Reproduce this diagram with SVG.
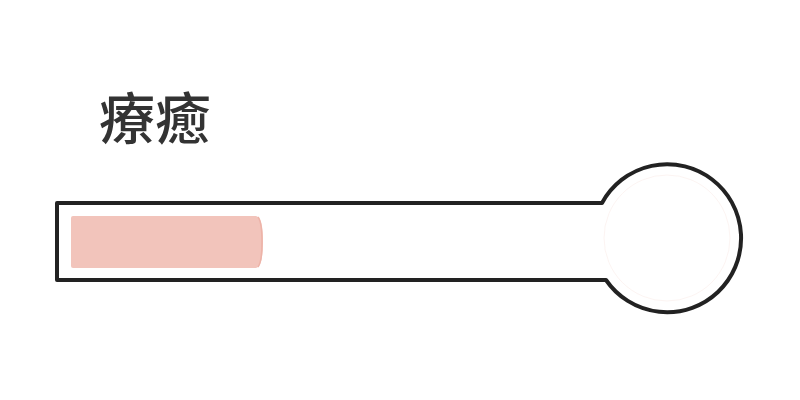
<svg xmlns="http://www.w3.org/2000/svg" width="800" height="400" viewBox="0 0 800 400">
  <style>
    .outline { fill: #ffffff; stroke: #222222; stroke-width: 4; stroke-linejoin: round; }
    .title { font-family: "Noto Sans CJK TC", "Noto Sans CJK JP", sans-serif; font-size: 56px; font-weight: 500; fill: #333333; }
  </style>
  <rect width="800" height="400" fill="#ffffff"/>
  <g id="title">
    <text class="title" x="99" y="139">療癒</text>
  </g>
  <g id="thermometer">
    <path class="outline" d="M57,203 L602,203 A74,74 0 1 1 606,280 L57,280 Z"/>
    <circle cx="667" cy="238" r="63" fill="none" stroke="#f8e4df" stroke-width="0.8" opacity="0.5"/>
  </g>
  <g id="level">
    <path d="M73,216 L256,216 Q263,217 263,242 Q263,267 256,268 L73,268 Q71,268 71,266 L71,218 Q71,216 73,216 Z" fill="#f2c4bb"/>
    <path d="M258,217 Q262,222 262,242 Q262,262 258,267" fill="none" stroke="#edb3a8" stroke-width="1.5"/>
  </g>
</svg>
